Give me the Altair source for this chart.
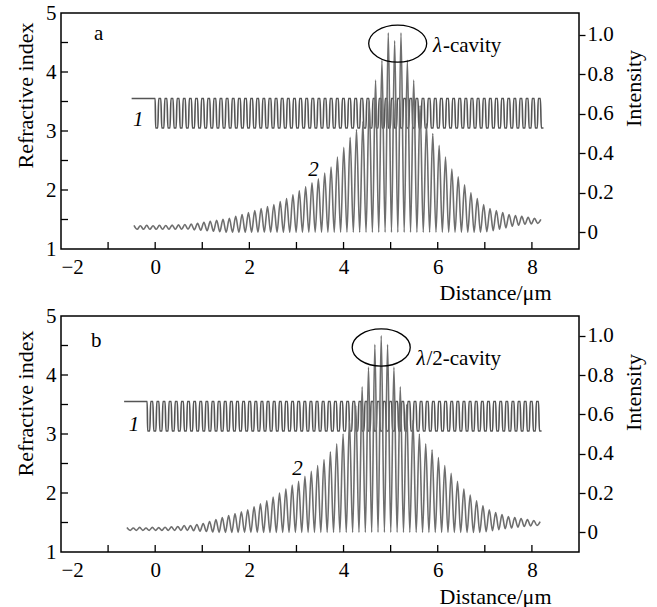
import altair as alt
import pandas as pd

FONT = "Liberation Serif"
X_DOMAIN = [-2, 9]
X_LABELS = [-2, 0, 2, 4, 6, 8]
X_TICKS = [-1, 0, 1, 2, 3, 4, 5, 6, 7, 8]
N_DOMAIN = [1, 5]
N_LABELS = [1, 2, 3, 4, 5]
N_TICKS = [1.5, 2, 2.5, 3, 3.5, 4, 4.5]
I_LABELS = [0, 0.2, 0.4, 0.6, 0.8, 1.0]

# ---- panel a: lambda-cavity ----
A_PEAK_X0 = -0.45
A_SPACING = 0.135
A_PEAKS = [0.035, 0.033, 0.035, 0.033, 0.035, 0.034, 0.036, 0.037, 0.039,
           0.041, 0.045, 0.05, 0.055, 0.06, 0.065, 0.07, 0.08, 0.09, 0.10,
           0.11, 0.12, 0.13, 0.14, 0.155, 0.17, 0.19, 0.21, 0.23, 0.25, 0.27,
           0.30, 0.33, 0.38, 0.43, 0.48, 0.52, 0.56, 0.66, 0.77, 0.87, 1.01,
           0.97, 1.01, 0.87, 0.77, 0.64, 0.55, 0.50, 0.44, 0.38, 0.32, 0.28,
           0.24, 0.20, 0.17, 0.14, 0.12, 0.11, 0.10, 0.09, 0.085, 0.08, 0.075,
           0.07, 0.065]
A_TROUGHS = [0.015] * 9 + [0.012, 0.01, 0.008, 0.005, 0.003] + [0.0] * 41 + \
            [0.003, 0.008, 0.015, 0.022, 0.03, 0.035, 0.04, 0.042, 0.045]
A_INDEX = {"start": -0.5, "flat_end": 0.0, "end": 8.3, "n_hi": 3.55,
           "n_lo": 3.05, "layer": 0.065}

# ---- panel b: lambda/2-cavity ----
B_PEAK_X0 = -0.6
B_SPACING = 0.135
B_PEAKS = [0.025, 0.022, 0.025, 0.022, 0.025, 0.024, 0.026, 0.028,
           0.03, 0.035, 0.035, 0.04, 0.045, 0.055, 0.065, 0.075, 0.085, 0.095,
           0.105, 0.115, 0.13, 0.145, 0.16, 0.18, 0.20, 0.22, 0.24, 0.26,
           0.285, 0.31, 0.34, 0.37, 0.41, 0.45, 0.50, 0.57, 0.645, 0.74, 0.84,
           0.955, 1.0, 0.955, 0.84, 0.74, 0.65, 0.57, 0.50, 0.45, 0.42, 0.38,
           0.34, 0.30, 0.26, 0.22, 0.19, 0.16, 0.135, 0.115, 0.10, 0.09, 0.08,
           0.075, 0.07, 0.065, 0.06, 0.055]
B_TROUGHS = [0.01] * 10 + [0.008, 0.006, 0.004, 0.002] + [0.0] * 42 + \
            [0.003, 0.008, 0.013, 0.018, 0.022, 0.026, 0.03, 0.032, 0.035]
B_INDEX = {"start": -0.66, "flat_end": -0.17, "end": 8.25, "n_hi": 3.55,
           "n_lo": 3.05, "layer": 0.065}

# ellipse outline (unit width 2, height ratio 0.64) drawn with bezier curves
ELLIPSE = ("M -1 0 C -1 -0.3535 -0.5523 -0.64 0 -0.64 "
           "C 0.5523 -0.64 1 -0.3535 1 0 "
           "C 1 0.3535 0.5523 0.64 0 0.64 "
           "C -0.5523 0.64 -1 0.3535 -1 0 Z")


def intensity_frame(x0, spacing, peaks, troughs):
    rows = []
    for k, p in enumerate(peaks):
        rows.append({"x": x0 + k * spacing, "v": p})
        if k < len(troughs):
            rows.append({"x": x0 + (k + 0.5) * spacing, "v": troughs[k]})
    return pd.DataFrame(rows)


def index_frame(spec):
    rows = [{"x": spec["start"], "n": spec["n_hi"]},
            {"x": spec["flat_end"], "n": spec["n_hi"]}]
    d = spec["layer"]
    count = int((spec["end"] - spec["flat_end"]) / d)
    for i in range(count):
        x0 = spec["flat_end"] + i * d
        n = spec["n_lo"] if i % 2 == 0 else spec["n_hi"]
        rows.append({"x": x0 + 0.15 * d, "n": n})
        rows.append({"x": x0 + 0.85 * d, "n": n})
    return pd.DataFrame(rows)


def panel(letter, peaks_df, index_df, height, i_domain, letter_pos, one_pos,
          two_pos, ell_pos, lam_pos, cav_text, title_y_left, title_y_right,
          title_y_bottom):
    xs = alt.Scale(domain=X_DOMAIN, nice=False, zero=False)
    ns = alt.Scale(domain=N_DOMAIN, nice=False, zero=False)
    iscale = alt.Scale(domain=i_domain, nice=False, zero=False)

    x_axis = alt.Axis(
        values=X_LABELS, ticks=False, domain=False, grid=False,
        labelPadding=7, title="Distance/μm", titleX=490, titleY=title_y_bottom,
        titleAlign="right", titleBaseline="middle")
    n_axis = alt.Axis(
        values=N_LABELS, ticks=False, domain=False, grid=False,
        labelPadding=5, title="Refractive index", titleAngle=270,
        titleX=-36, titleY=title_y_left, titleAlign="center",
        titleBaseline="middle")
    i_axis = alt.Axis(
        orient="right", values=I_LABELS, ticks=True, tickSize=6,
        tickColor="black", tickWidth=1.3, domain=False, grid=False,
        labelPadding=2,
        labelExpr="datum.value == 0 ? '0' : format(datum.value, '.1f')",
        title="Intensity", titleAngle=270, titleX=54,
        titleY=title_y_right, titleAlign="center", titleBaseline="middle")

    def X():
        return alt.X("x:Q", scale=xs, axis=x_axis)

    def N():
        return alt.Y("n:Q", scale=ns, axis=n_axis)

    def V():
        return alt.Y("v:Q", scale=iscale, axis=i_axis)

    index_line = alt.Chart(index_df).mark_line(
        color="#555555", strokeWidth=1.6, interpolate="monotone"
    ).encode(x=X(), y=N())

    xticks = alt.Chart(pd.DataFrame({"x": X_TICKS})).mark_rule(
        color="black", strokeWidth=1.3
    ).encode(x=X(), y=alt.value(height), y2=alt.value(height - 7))

    nticks = alt.Chart(pd.DataFrame({"n": N_TICKS})).mark_rule(
        color="black", strokeWidth=1.3
    ).encode(y=N(), x=alt.value(0), x2=alt.value(7))

    txt_normal = alt.Chart(pd.DataFrame({
        "x": [letter_pos[0]], "n": [letter_pos[1]], "t": [letter]})).mark_text(
        font=FONT, fontSize=21, color="black"
    ).encode(x=X(), y=N(), text="t:N")
    txt_italic = alt.Chart(pd.DataFrame({
        "x": [one_pos[0], two_pos[0]], "n": [one_pos[1], two_pos[1]],
        "t": ["1", "2"]})).mark_text(
        font=FONT, fontSize=21, fontStyle="italic", color="black"
    ).encode(x=X(), y=N(), text="t:N")

    left = alt.layer(index_line, xticks, nticks, txt_normal, txt_italic)

    int_line = alt.Chart(peaks_df).mark_line(
        color="#6e6e6e", strokeWidth=1.6, interpolate="monotone"
    ).encode(x=X(), y=V())

    ell = alt.Chart(pd.DataFrame({"x": [ell_pos[0]], "v": [ell_pos[1]]})).mark_point(
        shape=ELLIPSE, size=3364, filled=False, color="black", strokeWidth=1.3,
        opacity=1
    ).encode(x=X(), y=V())

    lam = alt.Chart(pd.DataFrame({"x": [lam_pos[0]], "v": [lam_pos[1]], "t": ["λ"]})).mark_text(
        font=FONT, fontSize=21, fontStyle="italic", color="black", align="left"
    ).encode(x=X(), y=V(), text="t:N")
    cav = alt.Chart(pd.DataFrame({"x": [lam_pos[0] + 0.21], "v": [lam_pos[1]], "t": [cav_text]})).mark_text(
        font=FONT, fontSize=21, color="black", align="left"
    ).encode(x=X(), y=V(), text="t:N")

    right = alt.layer(int_line, ell, lam, cav)

    return alt.layer(left, right).resolve_scale(y="independent").properties(
        width=518, height=height)


panel_a = panel("a", intensity_frame(A_PEAK_X0, A_SPACING, A_PEAKS, A_TROUGHS),
                index_frame(A_INDEX), 236, [-0.085, 1.11],
                (-1.2, 4.65), (-0.36, 3.18), (3.36, 2.34), (5.15, 0.955),
                (5.9, 0.945), "-cavity", 82, 75, 43)
panel_b = panel("b", intensity_frame(B_PEAK_X0, B_SPACING, B_PEAKS, B_TROUGHS),
                index_frame(B_INDEX), 236, [-0.1, 1.1],
                (-1.25, 4.57), (-0.45, 3.15), (3.02, 2.4), (4.8, 0.94),
                (5.55, 0.88), "/2-cavity", 87, 76, 44)

chart = alt.vconcat(panel_a, panel_b, spacing=0).properties(
    padding={"left": 13, "top": 1, "right": 5, "bottom": 0}
).configure_view(
    stroke="black", strokeWidth=1.5
).configure_axis(
    labelFont=FONT, titleFont=FONT, labelFontSize=21, titleFontSize=22,
    labelColor="black", titleColor="black", titleFontWeight="normal"
)

chart.save("out.html", embed_options={"renderer": "svg", "actions": False})
